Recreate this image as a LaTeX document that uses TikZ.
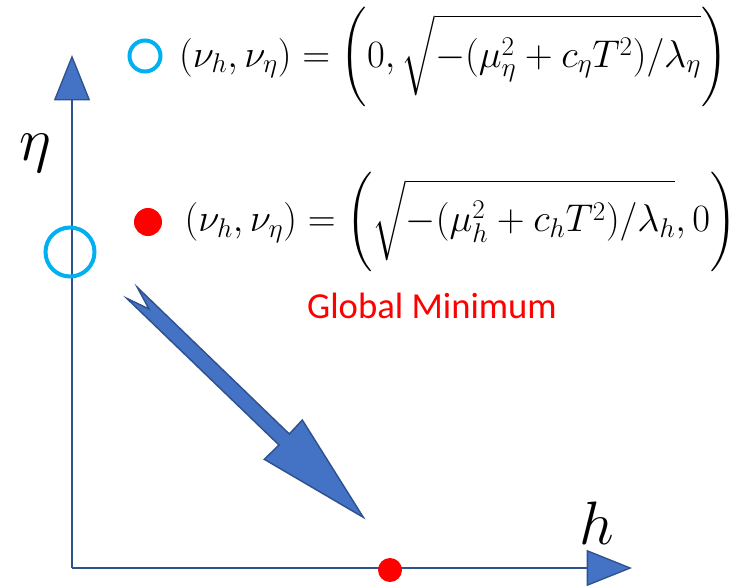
\RequirePackage{fix-cm}
\documentclass[tikz,border=0pt]{standalone}
\usepackage{amsmath}
\usepackage{fontspec}
\newfontfamily\calfont{Carlito}
\usetikzlibrary{positioning,arrows.meta}
\definecolor{axisblue}{HTML}{4472C4}
\definecolor{axisline}{HTML}{2F528F}
\definecolor{ringcyan}{HTML}{00B0F0}
\definecolor{dotred}{HTML}{FF0000}

\begin{document}
\begin{tikzpicture}[
    x=0.75pt, y=-0.75pt,
    every node/.style={inner sep=0pt, outer sep=0pt},
    axis/.style={line width=2pt, draw=axisline, -{Triangle[width=27pt, length=34pt, fill=axisblue, line width=1pt]}},
    blockarr/.style={fill=axisblue, draw=axisline, line width=1.1pt, line join=miter},
    ring/.style={circle, draw=ringcyan, line width=3pt},
    dot/.style={circle, fill=dotred},
    eqn/.style={font=\fontsize{29}{34}\selectfont},
    axlabel/.style={font=\fontsize{46}{50}\selectfont}
]
\useasboundingbox (0,0) rectangle (747,586);

% Axes
\coordinate (o) at (72,568);
\coordinate (etatip) at (72,55);
\coordinate (htip) at (632,568);
\draw[axis] (o) -- (etatip);
\draw[axis] (o) -- (htip);
\node[axlabel] (etalabel) at (35,153) {$\eta$};
\node[axlabel] (hlabel) at (597,523) {$h$};

% Minima on the axes
\node[ring, minimum size=36.75pt] (etamin) at (70,252) {};
\node[dot, minimum size=18pt] (hmin) at (390,570) {};

% Legend
\node[ring, minimum size=23.25pt] (ringkey) at (145,56) {};
\node[eqn, right=14pt of ringkey, yshift=-1pt] (ringeq) {$(\nu_h,\nu_\eta)=\biggl(0,\sqrt{-(\mu_\eta^2+c_\eta T^2)/\lambda_\eta\vphantom{\big(}}\biggr)$};
\node[dot, minimum size=21pt] (dotkey) at (148,222) {};
\node[eqn, right=17pt of dotkey] (doteq) {$(\nu_h,\nu_\eta)=\biggl(\sqrt{-(\mu_h^2+c_h T^2)/\lambda_h\vphantom{\big(}},0\biggr)$};
\node[font=\calfont\fontsize{27.5}{30}\selectfont, text=dotred, anchor=base] (minlabel) at (432,318) {Global Minimum};

% Block arrow
\filldraw[blockarr] (126.7,298.3) -- (149,309) -- (137.3,287.3) -- (289.3,434) -- (302.3,420)
    -- (363.3,517.3) -- (264.3,459.3) -- (279,445) -- cycle;
\end{tikzpicture}
\end{document}
